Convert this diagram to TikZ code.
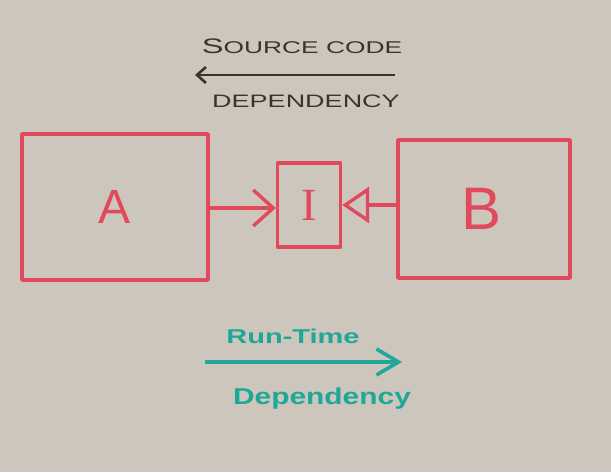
\documentclass[tikz,border=0pt]{standalone}
\usepackage{fontspec}
\setmainfont{Liberation Sans}
\newfontfamily\serifI{Liberation Serif}
\usetikzlibrary{arrows.meta}
\definecolor{board}{HTML}{CCC6BC}
\definecolor{mred}{HTML}{E04A5C}
\definecolor{mteal}{HTML}{1FA898}
\definecolor{mink}{HTML}{3A342E}
\tikzset{
  redbox/.style={draw=mred, line width=3.4pt, line join=round},
  redline/.style={draw=mred, line width=3.4pt, line cap=round},
  redlabel/.style={text=mred, inner sep=0pt},
  inklabel/.style={text=mink, inner sep=0pt, font=\fontsize{21}{21}\selectfont},
  teallabel/.style={text=mteal, inner sep=0pt, font=\bfseries\fontsize{20}{20}\selectfont},
}
\begin{document}
\begin{tikzpicture}[x=1pt,y=-1pt]
\fill[board] (0,0) rectangle (611,472);
\useasboundingbox (0,0) rectangle (611,472);
% top legend
\node[inklabel, xscale=1.55] (sc) at (302,46) {S\fontsize{17}{17}\selectfont OURCE CODE};
\coordinate (scR) at (395,75);
\coordinate (scL) at (195,75);
\draw[draw=mink, line width=2.6pt, -{Straight Barb[length=9pt,width=16pt,line width=2.6pt]}] (scR) -- (scL);
\node[inklabel, font=\fontsize{18}{18}\selectfont, xscale=1.5] (dep1) at (306,101) {DEPENDENCY};
% boxes
\node[redbox, minimum width=186pt, minimum height=146pt, inner sep=0pt] (A) at (115,207) {};
\node[redlabel, font=\fontsize{48}{48}\selectfont] at (A.center) {A};
\node[redbox, minimum width=63pt, minimum height=84pt, inner sep=0pt] (I) at (309,205) {};
\node[redlabel, font=\serifI\fontsize{46}{46}\selectfont] at (I.center) {I};
\node[redbox, minimum width=172pt, minimum height=138pt, inner sep=0pt] (B) at (484,209) {};
\node[redlabel, font=\fontsize{60}{60}\selectfont] at ([xshift=-2pt]B.center) {B};
% connectors
\draw[redline, -{Straight Barb[length=20pt,width=36pt,line width=3.4pt]}] (A.east |- 0,208) -- (I.west |- 0,208);
\draw[redline, -{Triangle[open, length=27pt, width=36pt, line width=3.4pt]}] (B.west |- 0,205) -- (I.east |- 0,205);
% bottom legend
\node[teallabel, xscale=1.45] (rt) at (293,336) {Run-Time};
\coordinate (rtL) at (205,362);
\coordinate (rtR) at (402,362);
\draw[draw=mteal, line width=3.6pt, -{Straight Barb[length=22pt,width=26pt,line width=3.6pt]}] (rtL) -- (rtR);
\node[teallabel, font=\bfseries\fontsize{23}{23}\selectfont, xscale=1.3] (dep2) at (322,399) {Dependency};
\end{tikzpicture}
\end{document}
